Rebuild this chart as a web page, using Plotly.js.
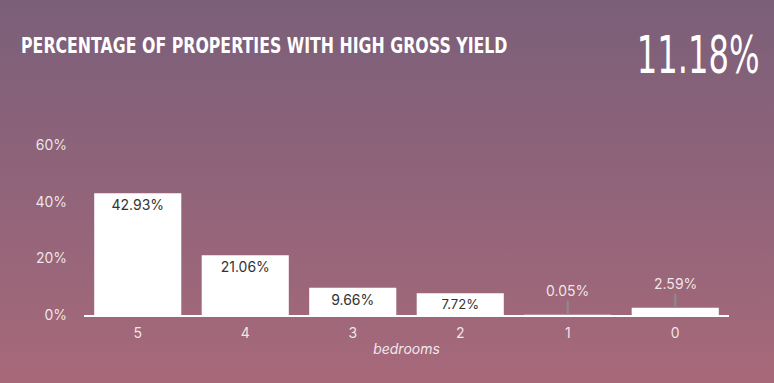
<!DOCTYPE html>
<html><head><meta charset="utf-8">
<script src="https://cdn.plot.ly/plotly-3.0.1.min.js"></script>
<style>
html,body{margin:0;padding:0;width:774px;height:383px;overflow:hidden;}
body{background:linear-gradient(to bottom,#7b5f79 0%,#a7697a 100%);}
#chart{width:774px;height:383px;}
</style></head>
<body><div id="chart"></div>
<script>
const categories = ['5','4','3','2','1','0'];
const values = [42.93, 21.06, 9.66, 7.72, 0.05, 2.59];
const yTicks = [0, 20, 40, 60];
const yTickLabels = ['0%','20%','40%','60%'];
const titleText = 'PERCENTAGE OF PROPERTIES WITH HIGH GROSS YIELD';
const totalText = '11.18%';
const xTitle = 'bedrooms';

const labelFont = 'Inter, "Open Sans", sans-serif';
const condFont = '"DejaVu Sans", sans-serif';
const insideThreshold = 5;

const textPos = values.map(v => v >= insideThreshold ? 'inside' : 'none');
const annotations = [];
values.forEach((v,i) => {
  if (v < insideThreshold) {
    annotations.push({x: i, y: v, xref:'x', yref:'y', text: v.toFixed(2)+'%',
      showarrow:true, arrowhead:0, arrowwidth:2, arrowcolor:'#8c8c8c', ax:0, ay:-24,
      font:{family:labelFont,size:14,color:'rgba(255,255,255,0.85)'}});
  }
});
const nData = annotations.length;
annotations.push({xref:'paper',yref:'paper',x:0.2783,y:1.588,xanchor:'center',yanchor:'middle',
  text:'<b>'+titleText+'</b>',showarrow:false,font:{family:condFont,size:22,color:'#ffffff'}});
annotations.push({xref:'paper',yref:'paper',x:0.9527,y:1.53,xanchor:'center',yanchor:'middle',
  text:totalText,showarrow:false,font:{family:condFont,size:52,color:'#ffffff'}});
const squeezeWidths = [487, 123];

Plotly.newPlot('chart', [{
  type:'bar', x:categories, y:values,
  marker:{color:'#ffffff'},
  text: values.map(v => v.toFixed(2)+'%'),
  textposition: textPos,
  insidetextanchor:'end',
  textfont:{family:labelFont,size:14,color:'#333333'},
  hoverinfo:'none'
}], {
  width:774, height:383,
  paper_bgcolor:'rgba(0,0,0,0)', plot_bgcolor:'rgba(0,0,0,0)',
  margin:{l:84,r:45,t:145,b:68},
  bargap:0.19,
  showlegend:false,
  xaxis:{type:'category', showline:true, linecolor:'#ffffff', linewidth:2, showgrid:false, zeroline:false,
    ticks:'', ticklabelstandoff:4, tickfont:{family:labelFont,size:14,color:'rgba(255,255,255,0.85)'},
    title:{text:'<i>'+xTitle+'</i>', font:{family:labelFont,size:14,color:'rgba(255,255,255,0.85)'}, standoff:4}},
  yaxis:{range:[0,60], tickvals:yTicks, ticktext:yTickLabels, showgrid:false, zeroline:false, showline:false,
    ticks:'', ticklabelstandoff:16, tickfont:{family:labelFont,size:14,color:'rgba(255,255,255,0.85)'}},
  annotations: annotations
}, {displayModeBar:false, staticPlot:true}).then(gd => {
  gd.querySelectorAll('g.annotation').forEach(g => {
    const idx = +g.getAttribute('data-index');
    if (idx >= nData) {
      const t = g.querySelector('text.annotation-text');
      const bg = g.querySelector('rect.bg');
      if (t) {
        const w = t.getComputedTextLength();
        const s = squeezeWidths[idx - nData] / w;
        const cx = parseFloat(t.getAttribute('x')) || 0;
        t.setAttribute('transform', 'translate(' + cx + ',0) scale(' + s + ',1) translate(' + (-cx) + ',0)');
        if (bg) {
          const bw = parseFloat(bg.getAttribute('width'));
          const bx = parseFloat(bg.getAttribute('x')) || 0;
          const bcx = bx + bw / 2;
          bg.setAttribute('width', bw * s);
          bg.setAttribute('x', bcx - bw * s / 2);
        }
      }
    }
  });
});
</script></body></html>
